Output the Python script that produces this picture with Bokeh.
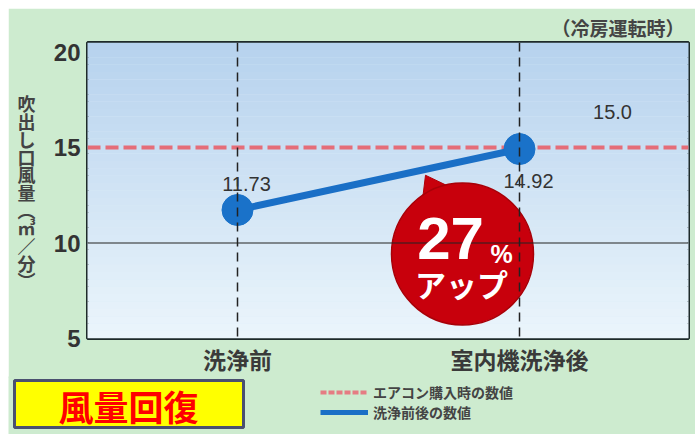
from bokeh.plotting import figure
from bokeh.layouts import column
from bokeh.models import (Range1d, Span, Label, Legend, LegendItem, FixedTicker,
                          LinearAxis, Title)
from bokeh.core.properties import value
from bokeh.embed import file_html
from bokeh.resources import INLINE

# ---- data ----
categories = ["洗浄前", "室内機洗浄後"]
cat_pos = [0, 1]
values = [11.73, 14.92]
value_labels = ["11.73", "14.92"]
purchase_value = 15.0
purchase_label = "15.0"
y_ticks = [5, 10, 15, 20]
increase_text = "27"
legend_labels = ["エアコン購入時の数値", "洗浄前後の数値"]
y_title = "吹出し口風量︵㎥／分︶"
note_text = "（冷房運転時）"
badge_text = "風量回復"

# ---- layout (page pixels) ----
FL, FR, FT, FB = 87, 688, 42, 343
A_BOTTOM = 378
OVERLAP = 2
X0PX, X1PX = 237, 519
Y_LO, Y_HI = 5, 20.5
PPX = X1PX - X0PX
PPY = (FB - FT) / (Y_HI - Y_LO)

def X(px):
    return (px - X0PX) / PPX

def Y(py):
    return Y_LO + (FB - py) / PPY

JP = "Noto Sans CJK JP"
NUM = "Liberation Sans"
GREEN = "#cdebcf"

p = figure(width=687, height=A_BOTTOM - 8, output_backend="svg", toolbar_location=None,
           x_range=Range1d(X(FL), X(FR)), y_range=Range1d(Y_LO, Y_HI),
           min_border_left=FL - 8, min_border_right=695 - FR,
           min_border_top=FT - 8, min_border_bottom=A_BOTTOM - FB)
p.margin = (8, 0, 0, 8)
p.frame_align = False
p.border_fill_color = GREEN
p.background_fill_color = "#dcecf8"
p.outline_line_color = "#1e2a2a"
p.outline_line_width = 3
p.grid.visible = False

# gradient background bands
n = 40
lo_c = (0xec, 0xf6, 0xfc)
hi_c = (0xb6, 0xd2, 0xee)
bands_b, bands_t, cols = [], [], []
for i in range(n):
    b = Y_LO + (Y_HI - Y_LO) * i / n
    t = Y_LO + (Y_HI - Y_LO) * (i + 1) / n
    f = (i + 0.5) / n
    c = tuple(int(lo_c[k] + (hi_c[k] - lo_c[k]) * f) for k in range(3))
    bands_b.append(b); bands_t.append(t); cols.append("#%02x%02x%02x" % c)
p.quad(left=X(FL) - 1, right=X(FR) + 1, bottom=bands_b, top=bands_t,
       fill_color=cols, line_color=None)

# axes
p.xaxis.ticker = FixedTicker(ticks=cat_pos)
p.xaxis.major_label_overrides = {c: l for c, l in zip(cat_pos, categories)}
p.yaxis.ticker = FixedTicker(ticks=y_ticks)
for ax in (p.xaxis[0], p.yaxis[0]):
    ax.axis_line_color = None
    ax.major_tick_line_color = None
    ax.minor_tick_line_color = None
    ax.major_tick_out = 0
    ax.major_tick_in = 0
p.xaxis.major_label_text_font = JP
p.xaxis.major_label_text_font_size = "23px"
p.xaxis.major_label_text_font_style = "bold"
p.xaxis.major_label_text_color = "#3a3a3a"
p.xaxis.major_label_standoff = 3
p.yaxis.major_label_text_font = NUM
p.yaxis.major_label_text_font_size = "24px"
p.yaxis.major_label_text_font_style = "bold"
p.yaxis.major_label_text_color = "#333333"
p.yaxis.major_label_standoff = 7

# y title: an extra left axis whose labels are the title's characters, stacked upright
chars = list(y_title)
char_ticks = [round(Y(104 + 18 * i), 4) for i in range(len(chars))]
yaxis2 = LinearAxis(ticker=FixedTicker(ticks=char_ticks),
                    major_label_overrides={t: ch for t, ch in zip(char_ticks, chars)},
                    axis_line_color=None, major_tick_line_color=None,
                    minor_tick_line_color=None, major_tick_out=0, major_tick_in=0,
                    major_label_standoff=15, major_label_text_font=JP,
                    major_label_text_font_size="18px",
                    major_label_text_font_style="bold",
                    major_label_text_color="#444444",
                    major_label_text_align="center")
p.add_layout(yaxis2, "left")

# top note
p.add_layout(Title(text=note_text, align="right", text_font=JP, text_font_size="19px",
                   text_font_style="bold", text_color="#444444", standoff=4, offset=4),
             "above")

# reference lines
p.add_layout(Span(location=10, dimension="width", line_color="#222222", line_width=1.2))
for c in cat_pos:
    p.add_layout(Span(location=c, dimension="height", line_color="#222222",
                      line_width=1.5, line_dash="9 6"))

# purchase-time line
p.line([X(FL), X(FR)], [purchase_value, purchase_value],
       line_color="#e8606a", line_width=4, line_dash="13 5", line_alpha=0.9)

# before/after series
p.line(cat_pos, values, line_color="#1a6fc6", line_width=7)
p.scatter(cat_pos, values, size=31, fill_color="#1a72c9", line_color="#1a72c9")

# value labels
for (px, py, t) in [(246, 186, value_labels[0]), (528, 183, value_labels[1]),
                    (612, 113, purchase_label)]:
    p.add_layout(Label(x=X(px), y=Y(py), text=t, text_align="center",
                       text_baseline="middle", text_font=NUM, text_font_size="20px",
                       text_color="#333333"))

# callout bubble
p.patch([X(425), X(421), X(462)], [Y(177), Y(210), Y(195)],
        fill_color="#c8000c", line_color="#b00008", line_width=1)
p.scatter([X(462)], [Y(257)], size=142, fill_color="#c8000c", line_color="#a80008",
          line_width=1.5)
p.add_layout(Label(x=X(450), y=Y(241), text=increase_text, text_align="center",
                   text_baseline="middle", text_font=NUM, text_font_size="60px",
                   text_font_style="bold", text_color="white"))
p.add_layout(Label(x=X(501), y=Y(257), text="%", text_align="center",
                   text_baseline="middle", text_font=NUM, text_font_size="25px",
                   text_font_style="bold", text_color="white"))
p.add_layout(Label(x=X(461), y=Y(287), text="アップ", text_align="center",
                   text_baseline="middle", text_font=JP, text_font_size="31px",
                   text_font_style="bold", text_color="white"))

# ---- bottom strip: badge and legend ----
B_TOP = A_BOTTOM - OVERLAP
q = figure(width=687, height=434 - B_TOP, output_backend="svg", toolbar_location=None,
           x_range=Range1d(8, 695), y_range=Range1d(434, B_TOP),
           x_axis_type=None, y_axis_type=None,
           min_border_left=0, min_border_right=0, min_border_top=0, min_border_bottom=0)
q.margin = (-OVERLAP, 0, 0, 8)
q.frame_align = False
q.border_fill_color = GREEN
q.background_fill_color = GREEN
q.outline_line_color = None
q.grid.visible = False

q.quad(left=[14], right=[243], top=[380], bottom=[427], fill_color="#ffff00",
       line_color="#4a5070", line_width=3)
q.text(x=[128], y=[405], text=[badge_text], text_align="center", text_baseline="middle",
       text_font=value(JP), text_font_size="35px", text_font_style="bold",
       text_color="#ff0000")

# legend renderers (same series, outside this strip's visible range)
lr_red = q.line([0, 1], [purchase_value, purchase_value], line_color="#e8707a",
                line_width=4, line_dash="6 2", line_alpha=0.9)
lr_blue = q.line(cat_pos, values, line_color="#1a6fc6", line_width=5)
legend = Legend(items=[LegendItem(label=legend_labels[0], renderers=[lr_red]),
                       LegendItem(label=legend_labels[1], renderers=[lr_blue])],
                location=(320 - 8, 434 - 422), orientation="vertical",
                glyph_width=48, glyph_height=20, spacing=0, padding=0, margin=0,
                label_standoff=5, label_height=20,
                label_text_font=JP, label_text_font_size="14px",
                label_text_font_style="bold", label_text_color="#444444",
                background_fill_alpha=0, border_line_color=None)
q.add_layout(legend, "center")

layout = column(p, q, spacing=0)
open("out.html", "w").write(file_html(layout, INLINE))
